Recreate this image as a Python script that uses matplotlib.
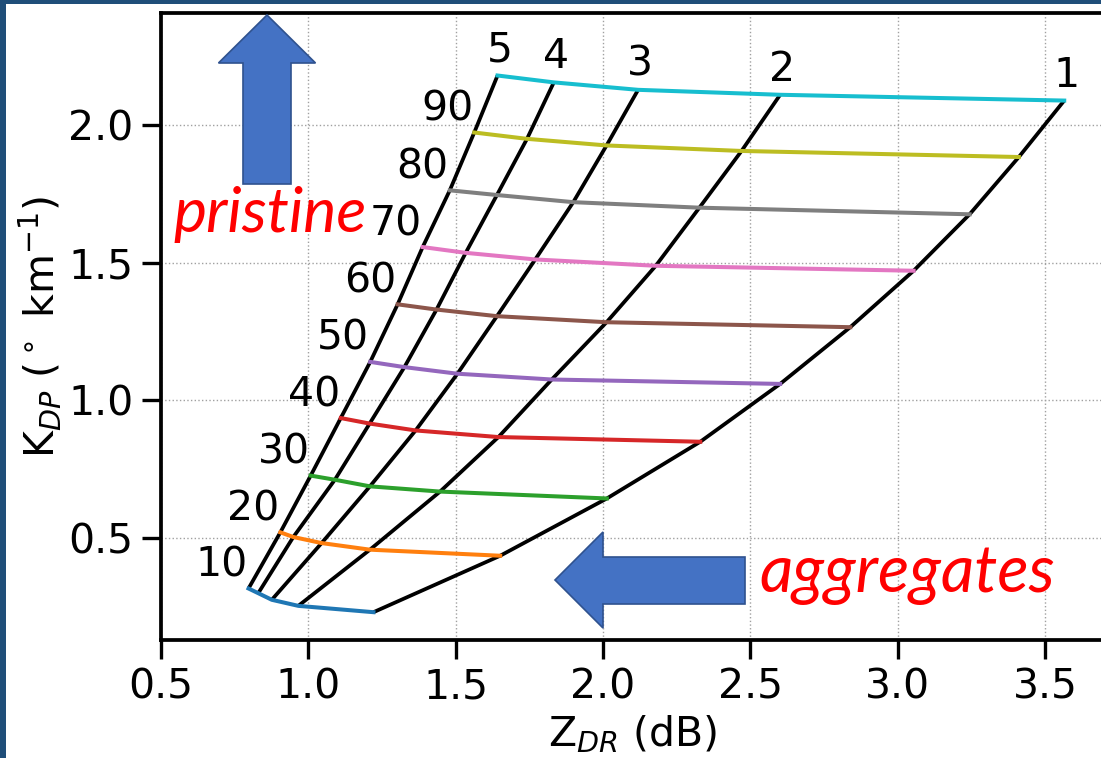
import matplotlib
matplotlib.use("Agg")
import matplotlib.pyplot as plt
from matplotlib.patches import Polygon, Rectangle

# ---- data: rows = density levels, columns = aspect-ratio lines 1..5 ----
levels = [10, 20, 30, 40, 50, 60, 70, 80, 90, 100]
aspect_labels = ["1", "2", "3", "4", "5"]

zdr = [
    [1.221, 0.966, 0.876, 0.830, 0.797],
    [1.651, 1.209, 1.045, 0.949, 0.905],
    [2.013, 1.447, 1.209, 1.090, 1.008],
    [2.330, 1.645, 1.364, 1.208, 1.110],
    [2.601, 1.826, 1.506, 1.326, 1.210],
    [2.839, 2.012, 1.640, 1.435, 1.303],
    [3.054, 2.179, 1.770, 1.534, 1.388],
    [3.244, 2.327, 1.899, 1.640, 1.480],
    [3.411, 2.470, 2.012, 1.742, 1.563],
    [3.565, 2.601, 2.119, 1.833, 1.642],
]
kdp = [
    [0.231, 0.254, 0.276, 0.300, 0.317],
    [0.436, 0.458, 0.482, 0.504, 0.521],
    [0.644, 0.669, 0.688, 0.712, 0.727],
    [0.850, 0.867, 0.891, 0.916, 0.936],
    [1.060, 1.076, 1.097, 1.121, 1.140],
    [1.266, 1.284, 1.306, 1.330, 1.349],
    [1.471, 1.489, 1.512, 1.536, 1.557],
    [1.676, 1.700, 1.720, 1.746, 1.763],
    [1.884, 1.906, 1.926, 1.950, 1.973],
    [2.089, 2.110, 2.128, 2.155, 2.180],
]
level_colors = ["#1f77b4", "#ff7f0e", "#2ca02c", "#d62728", "#9467bd",
                "#8c564b", "#e377c2", "#7f7f7f", "#bcbd22", "#17becf"]

xticks = [0.5, 1.0, 1.5, 2.0, 2.5, 3.0, 3.5]
yticks = [0.5, 1.0, 1.5, 2.0]

W, H = 1101, 758
fig = plt.figure(figsize=(W / 100, H / 100), dpi=100, facecolor="#1F4E79")
# white panel inside the dark-blue frame
fig.patches.append(Rectangle((6 / W, 0), 1 - 6 / W, (H - 4) / H,
                             transform=fig.transFigure, facecolor="white",
                             edgecolor="none", zorder=-10))

ax_l, ax_r, ax_t, ax_b = 161, 1104, 13, 640
ax = fig.add_axes([ax_l / W, (H - ax_b) / H, (ax_r - ax_l) / W, (ax_b - ax_t) / H])
ax.set_zorder(1)
ax.set_facecolor("white")
ax.set_xlim(0.5, 3.7)
ax.set_ylim(0.13, 2.407)

ax.grid(True, linestyle=":", color="#a0a0a0", linewidth=1.0)
ax.set_axisbelow(True)

nlev = len(levels)
nasp = len(aspect_labels)
# black aspect-ratio lines
for j in range(nasp):
    ax.plot([zdr[i][j] for i in range(nlev)], [kdp[i][j] for i in range(nlev)],
            color="black", lw=2.7, zorder=2, solid_capstyle="butt")
# coloured density lines
for i in range(nlev):
    ax.plot(zdr[i], kdp[i], color=level_colors[i], lw=2.9, zorder=3)

fs = 29.5
# aspect labels at top of the black lines
for j in range(nasp):
    ax.annotate(aspect_labels[j], xy=(zdr[-1][j], kdp[-1][j]), xytext=(2, 25),
                textcoords="offset pixels", ha="center", va="center", fontsize=fs)
# level labels at the left ends
for i in range(nlev - 1):
    ax.annotate(str(levels[i]), xy=(zdr[i][-1], kdp[i][-1]), xytext=(-27, 23),
                textcoords="offset pixels", ha="center", va="center", fontsize=fs)

ax.set_xticks(xticks)
ax.set_yticks(yticks)
ax.tick_params(axis="both", direction="out", length=14, width=2.4,
               labelsize=fs, pad=6)
for s in ax.spines.values():
    s.set_linewidth(2.7)

ax.set_xlabel(r"Z$_{DR}$ (dB)", fontsize=fs, va="center")
ax.set_ylabel(r"K$_{DP}$ ($^\circ$ km$^{-1}$)", fontsize=fs, va="center")
ax.xaxis.set_label_coords(0.5, (ax_b - 735) / (ax_b - ax_t))
ax.yaxis.set_label_coords((40 - ax_l) / (ax_r - ax_l), 0.5)

# annotations
ax.text((270 - ax_l) / (ax_r - ax_l), (ax_b - 232) / (ax_b - ax_t), "pristine",
        transform=ax.transAxes, ha="center", va="baseline", color="red",
        fontsize=45, family="Lato", style="italic", zorder=6)
ax.text((907 - ax_l) / (ax_r - ax_l), (ax_b - 592) / (ax_b - ax_t), "aggregates",
        transform=ax.transAxes, ha="center", va="baseline", color="red",
        fontsize=47, family="Lato", style="italic", zorder=6)


def px(pts):
    return [(x / W, (H - y) / H) for x, y in pts]


up_arrow = [(267, 15), (315.5, 63), (291, 63), (291, 184), (243, 184), (243, 63), (218.5, 63)]
left_arrow = [(555, 580), (603, 532), (603, 557), (745, 557), (745, 604), (603, 604), (603, 628)]
for poly in (up_arrow, left_arrow):
    fig.patches.append(Polygon(px(poly), closed=True, transform=fig.transFigure,
                               facecolor="#4472C4", edgecolor="#2F528F", lw=1.2,
                               zorder=5))

fig.savefig("out.png", dpi=100, facecolor=fig.get_facecolor())
